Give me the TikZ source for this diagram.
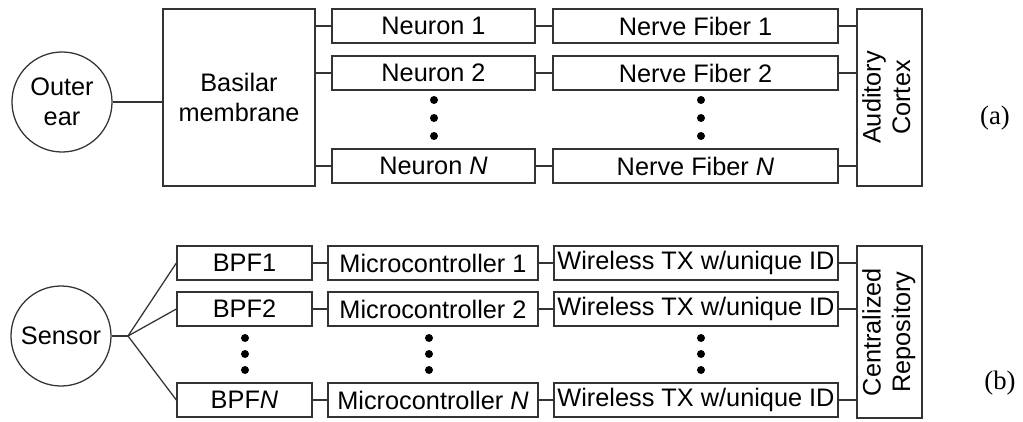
\documentclass[tikz,border=0pt]{standalone}
\usepackage{fontspec}
\setmainfont{Liberation Sans}
\newfontfamily\capfont{Liberation Serif}

\begin{document}
\begin{tikzpicture}[x=0.025cm,y=-0.025cm,
  blk/.style={draw=black!80,line width=0.9pt,inner sep=0pt,align=center,font=\fontsize{18}{21}\selectfont},
  src/.style={blk,circle,minimum size=2.5cm},
  wire/.style={draw=black!80,line width=0.9pt}]
\useasboundingbox (0,0) rectangle (1023,421);

% (a) hearing chain
\node[src] (ear) at (62,102) {Outer\\ear};
\node[blk,minimum width=3.8cm,minimum height=4.425cm] (basilar) at (239,97.5) {Basilar\\membrane};
\node[blk,minimum width=5.075cm,minimum height=0.85cm] (neu1) at (433.5,26) {Neuron 1};
\node[blk,minimum width=5.075cm,minimum height=0.85cm] (neu2) at (433.5,73) {Neuron 2};
\node[blk,minimum width=5.075cm,minimum height=0.85cm] (neuN) at (433.5,166) {Neuron \textit{N}};
\node[blk,minimum width=7.125cm,minimum height=0.85cm] (fib1) at (695.5,26) {Nerve Fiber 1};
\node[blk,minimum width=7.125cm,minimum height=0.85cm] (fib2) at (695.5,73) {Nerve Fiber 2};
\node[blk,minimum width=7.125cm,minimum height=0.85cm] (fibN) at (695.5,166) {Nerve Fiber \textit{N}};
\node[blk,minimum width=1.625cm,minimum height=4.425cm] (cortex) at (889.5,97.5)
  {\rotatebox{90}{\begin{tabular}{@{}c@{}}Auditory\\Cortex\end{tabular}}};
\node[font=\capfont\fontsize{19}{21}\selectfont] (capa) at (995,118) {(a)};

\draw[wire] (ear.east) -- (ear.east -| basilar.west);
\draw[wire] (neu1.west -| basilar.east) -- (neu1.west);
\draw[wire] (neu2.west -| basilar.east) -- (neu2.west);
\draw[wire] (neuN.west -| basilar.east) -- (neuN.west);
\draw[wire] (neu1.east) -- (fib1.west);
\draw[wire] (neu2.east) -- (fib2.west);
\draw[wire] (neuN.east) -- (fibN.west);
\draw[wire] (fib1.east) -- (fib1.east -| cortex.west);
\draw[wire] (fib2.east) -- (fib2.east -| cortex.west);
\draw[wire] (fibN.east) -- (fibN.east -| cortex.west);

\fill (434,100) circle[radius=0.1cm] (434,118) circle[radius=0.1cm] (434,136) circle[radius=0.1cm];
\fill (701,100) circle[radius=0.1cm] (701,118) circle[radius=0.1cm] (701,136) circle[radius=0.1cm];

% (b) sensor chain
\node[src] (sensor) at (61,336) {Sensor};
\coordinate (split) at (128,336);
\node[blk,minimum width=3.375cm,minimum height=0.85cm] (bpf1) at (244.5,263) {BPF1};
\node[blk,minimum width=3.375cm,minimum height=0.85cm] (bpf2) at (244.5,309) {BPF2};
\node[blk,minimum width=3.375cm,minimum height=0.85cm] (bpfN) at (244.5,400) {BPF\textit{N}};
\node[blk,minimum width=5.25cm,minimum height=0.85cm] (mcu1) at (433,263) {Microcontroller 1};
\node[blk,minimum width=5.25cm,minimum height=0.85cm] (mcu2) at (433,309) {Microcontroller 2};
\node[blk,minimum width=5.25cm,minimum height=0.85cm] (mcuN) at (433,400) {Microcontroller \textit{N}};
\node[blk,minimum width=7.1cm,minimum height=0.85cm] (tx1) at (696,263) {Wireless TX w/unique ID};
\node[blk,minimum width=7.1cm,minimum height=0.85cm] (tx2) at (696,309) {Wireless TX w/unique ID};
\node[blk,minimum width=7.1cm,minimum height=0.85cm] (txN) at (696,400) {Wireless TX w/unique ID};
\node[blk,minimum width=1.625cm,minimum height=4.3cm] (repo) at (889.5,332)
  {\rotatebox{90}{\begin{tabular}{@{}c@{}}Centralized\\Repository\end{tabular}}};
\node[font=\capfont\fontsize{19}{21}\selectfont] (capb) at (1000,383) {(b)};

\draw[wire] (sensor.east) -- (split);
\draw[wire] (split) -- (bpf1.west);
\draw[wire] (split) -- (bpf2.west);
\draw[wire] (split) -- (bpfN.west);
\draw[wire] (bpf1.east) -- (mcu1.west);
\draw[wire] (bpf2.east) -- (mcu2.west);
\draw[wire] (bpfN.east) -- (mcuN.west);
\draw[wire] (mcu1.east) -- (tx1.west);
\draw[wire] (mcu2.east) -- (tx2.west);
\draw[wire] (mcuN.east) -- (txN.west);
\draw[wire] (tx1.east) -- (tx1.east -| repo.west);
\draw[wire] (tx2.east) -- (tx2.east -| repo.west);
\draw[wire] (txN.east) -- (txN.east -| repo.west);

\fill (245,338) circle[radius=0.1cm] (245,354) circle[radius=0.1cm] (245,370) circle[radius=0.1cm];
\fill (429,338) circle[radius=0.1cm] (429,354) circle[radius=0.1cm] (429,370) circle[radius=0.1cm];
\fill (701,338) circle[radius=0.1cm] (701,354) circle[radius=0.1cm] (701,370) circle[radius=0.1cm];
\end{tikzpicture}
\end{document}
